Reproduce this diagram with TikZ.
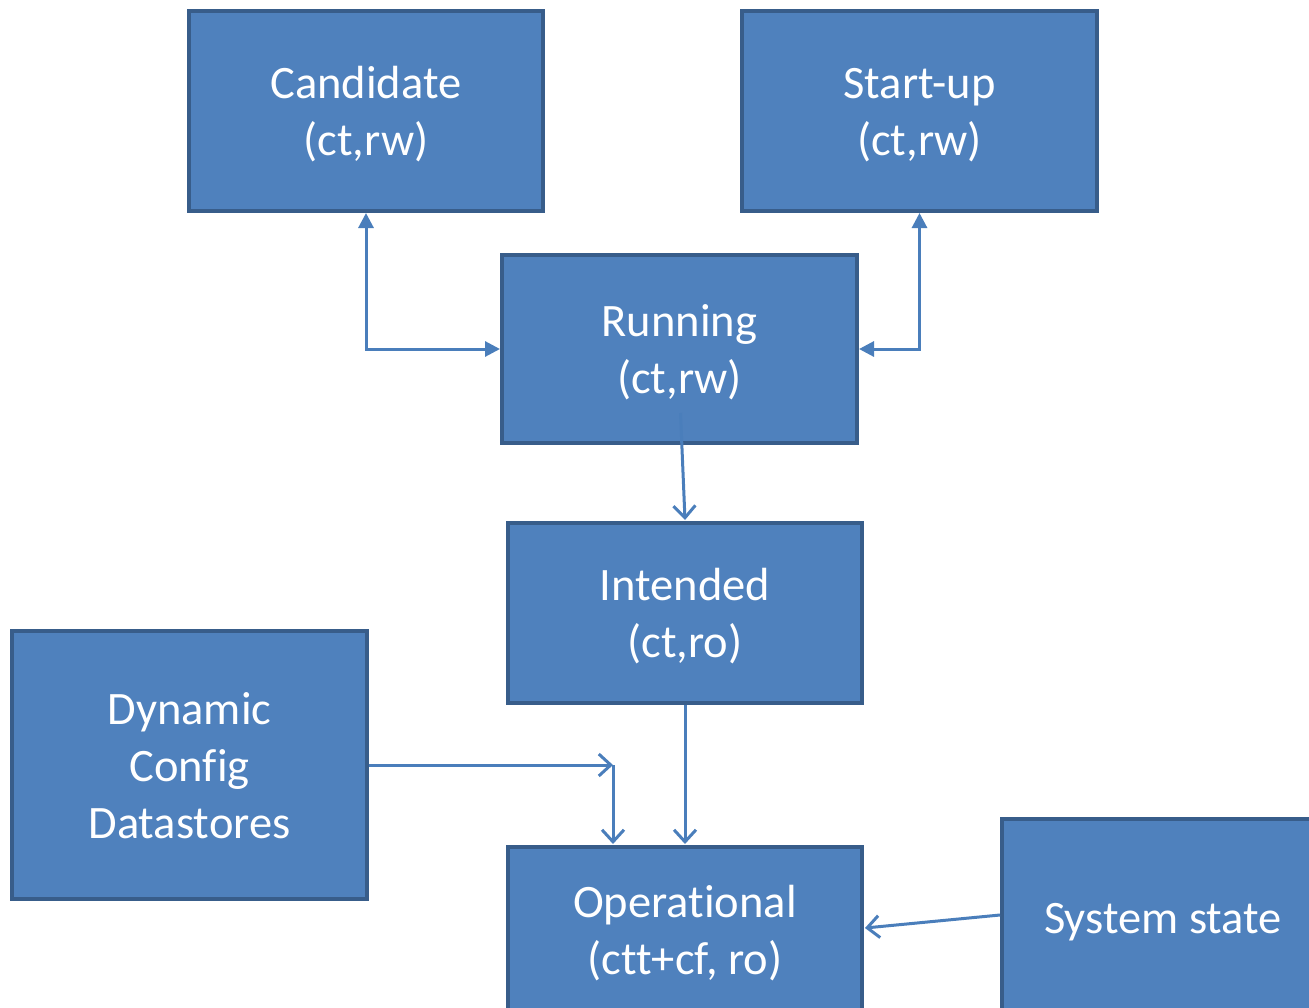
\documentclass[tikz,border=0pt]{standalone}
\usepackage{fontspec}
\setmainfont{Carlito}[Ligatures=NoCommon]
\usetikzlibrary{arrows.meta,calc}
\definecolor{boxfill}{HTML}{4F81BD}
\definecolor{boxline}{HTML}{385D8A}
\definecolor{arrowc}{HTML}{4A7EBB}
\newcommand{\boxtext}[1]{\raisebox{-5pt}[\height][\depth]{\begin{tabular}{@{}c@{}}#1\end{tabular}}}
\tikzset{
  blk/.style={draw=boxline, fill=boxfill, line width=4pt, text=white,
    font=\fontsize{46.5}{57}\selectfont, inner sep=0pt},
  biarrow/.style={draw=arrowc, line width=3pt, {Triangle[length=15pt,width=15pt]}-{Triangle[length=15pt,width=15pt]}},
  openarrow/.style={draw=arrowc, line width=3pt, -{Straight Barb[length=12pt,width=22pt]}}
}
\begin{document}
\begin{tikzpicture}[x=1pt,y=-1pt]
\useasboundingbox (0,0) rectangle (1309,1007);
\clip (0,0) rectangle (1309,1007);
\node[blk, minimum width=354pt, minimum height=200pt] (cand) at (366,111) {\boxtext{Candidate\\(ct,rw)}};
\node[blk, minimum width=355pt, minimum height=200pt] (start) at (919.5,111) {\boxtext{Start-up\\(ct,rw)}};
\node[blk, minimum width=355pt, minimum height=188pt] (run) at (679.5,349) {\boxtext{Running\\(ct,rw)}};
\node[blk, minimum width=354pt, minimum height=180pt] (int) at (685,613) {\boxtext{Intended\\(ct,ro)}};
\node[blk, minimum width=355pt, minimum height=268pt] (dyn) at (189.5,765) {\boxtext{Dynamic\\Config\\Datastores}};
\node[blk, minimum width=354pt, minimum height=166pt] (op) at (685,930) {\boxtext{Operational\\(ctt+cf, ro)}};
\node[blk, minimum width=322pt, minimum height=196pt] (sys) at (1163,917) {\boxtext{System state}};
\coordinate (j) at (613,765);
\draw[biarrow] (cand.south) |- (run.west);
\draw[biarrow] (start.south) |- (run.east);
\draw[openarrow] ($(run.south)+(1,-32)$) -- ($(int.north)+(0,-1)$);
\draw[openarrow] (int.south) -- ($(op.north)+(0,-1)$);
\draw[openarrow] (dyn.east) -- (j);
\draw[openarrow] (j) -- ($(j |- op.north)+(0,-1)$);
\draw[openarrow] ($(sys.west)+(0,-2)$) -- ($(op.east)+(1,-2)$);
\end{tikzpicture}
\end{document}
